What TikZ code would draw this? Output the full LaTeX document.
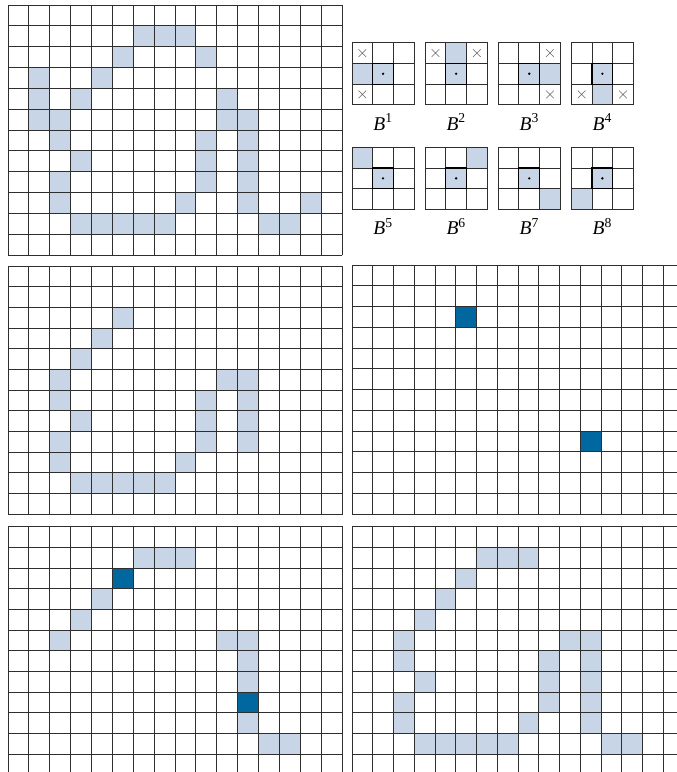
\documentclass[tikz,border=0pt]{standalone}
\usepackage{fontspec}
\setmainfont{Liberation Serif}
\definecolor{lightfill}{RGB}{200,213,230}
\definecolor{darkfill}{RGB}{0,104,158}
\tikzset{
  gridline/.style={draw=black!82, line width=0.95pt, line cap=rect},
  lightcell/.style={fill=lightfill},
  darkcell/.style={fill=darkfill},
  centerbox/.style={draw=black, line width=1.1pt},
  xmark/.style={draw=black!60, line width=0.55pt},
  blabel/.style={anchor=base, inner sep=0pt, font=\fontsize{19.5}{20}\selectfont}
}
\newcommand{\gridlines}[2]{%
  \foreach \i in {0,...,#1} \draw[gridline] (\i,0) -- (\i,#2);
  \foreach \j in {0,...,#2} \draw[gridline] (0,\j) -- (#1,\j);}
\newcommand{\xm}[2]{\draw[xmark] (#2+0.5,#1+0.5) +(-3.8pt,-3.8pt) -- +(3.8pt,3.8pt) +(-3.8pt,3.8pt) -- +(3.8pt,-3.8pt);}
\newcommand{\selem}[6]{%
  \begin{scope}[shift={(#2,#3)}, x=20.7pt, y=-20.7pt]
    \fill[lightcell] (1,1) rectangle (2,2);
    \fill[lightcell] (#5,#4) rectangle ++(1,1);
    \gridlines{3}{3}
    \draw[centerbox] (1,1) rectangle (2,2);
    \fill (1.5,1.5) circle[radius=1.3pt];
    #6
    \node[blabel] (lbl#1) at (1.5,4.22) {\textit{B}\textsuperscript{#1}};
  \end{scope}}
\begin{document}
\begin{tikzpicture}[x=1pt,y=-1pt]
\useasboundingbox (0,0) rectangle (677,772);
\clip (0,0) rectangle (677,772);
\fill[white] (0,0) rectangle (677,772);

% top-left grid
\begin{scope}[shift={(8,5)}, x=20.875pt, y=-20.833pt]
  \foreach \r/\c in {1/6,1/7,1/8, 2/5,2/9, 3/1,3/4, 4/1,4/3,4/10, 5/1,5/2,5/10,5/11,
    6/2,6/9,6/11, 7/3,7/9,7/11, 8/2,8/9,8/11, 9/2,9/8,9/11,9/14,
    10/3,10/4,10/5,10/6,10/7,10/12,10/13}
    \fill[lightcell] (\c,\r) rectangle ++(1,1);
  \gridlines{16}{12}
\end{scope}

% structuring elements
\selem{1}{352}{42.7}{1}{0}{\xm{0}{0}\xm{2}{0}}
\selem{2}{425.1}{42.7}{0}{1}{\xm{0}{0}\xm{0}{2}}
\selem{3}{498.2}{42.7}{1}{2}{\xm{0}{2}\xm{2}{2}}
\selem{4}{571.3}{42.7}{2}{1}{\xm{2}{0}\xm{2}{2}}
\selem{5}{352}{147.3}{0}{0}{}
\selem{6}{425.1}{147.3}{0}{2}{}
\selem{7}{498.2}{147.3}{2}{2}{}
\selem{8}{571.3}{147.3}{2}{0}{}

% middle-left grid
\begin{scope}[shift={(8,266)}, x=20.875pt, y=-20.69pt]
  \foreach \r/\c in {2/5, 3/4, 4/3, 5/2,5/10,5/11, 6/2,6/9,6/11, 7/3,7/9,7/11,
    8/2,8/9,8/11, 9/2,9/8, 10/3,10/4,10/5,10/6,10/7}
    \fill[lightcell] (\c,\r) rectangle ++(1,1);
  \gridlines{16}{12}
\end{scope}

% middle-right grid
\begin{scope}[shift={(352,265)}, x=20.75pt, y=-20.75pt]
  \foreach \r/\c in {2/5, 8/11}
    \fill[darkcell] (\c,\r) rectangle ++(1,1);
  \gridlines{16}{12}
\end{scope}

% bottom-left grid
\begin{scope}[shift={(8,526.7)}, x=20.875pt, y=-20.67pt]
  \foreach \r/\c in {1/6,1/7,1/8, 3/4, 4/3, 5/2,5/10,5/11, 6/11, 7/11, 9/11, 10/12,10/13}
    \fill[lightcell] (\c,\r) rectangle ++(1,1);
  \foreach \r/\c in {2/5, 8/11}
    \fill[darkcell] (\c,\r) rectangle ++(1,1);
  \gridlines{16}{12}
\end{scope}

% bottom-right grid
\begin{scope}[shift={(352,526.7)}, x=20.75pt, y=-20.67pt]
  \foreach \r/\c in {1/6,1/7,1/8, 2/5, 3/4, 4/3, 5/2,5/10,5/11, 6/2,6/9,6/11,
    7/3,7/9,7/11, 8/2,8/9,8/11, 9/2,9/8,9/11, 10/3,10/4,10/5,10/6,10/7,10/12,10/13}
    \fill[lightcell] (\c,\r) rectangle ++(1,1);
  \gridlines{16}{12}
\end{scope}
\end{tikzpicture}
\end{document}
